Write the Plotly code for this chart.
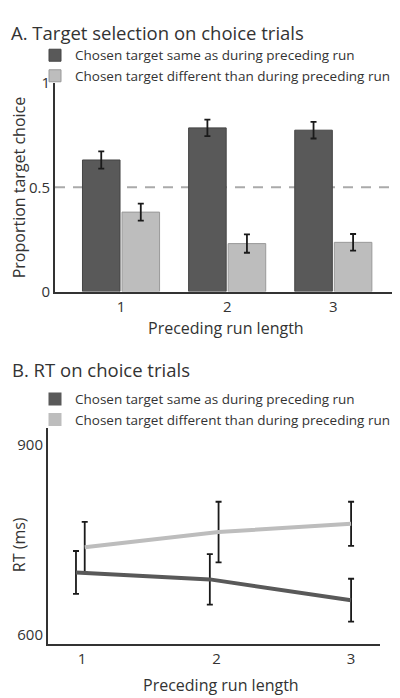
import plotly.graph_objects as go

# ---------------- data ----------------
run_lengths = [1, 2, 3]
tick_labels = ["1", "2", "3"]
series_names = ["Chosen target same as during preceding run",
                "Chosen target different than during preceding run"]

# Panel A: proportion target choice
prop_same = [0.631, 0.785, 0.774]
prop_same_err = [0.041, 0.040, 0.040]
prop_diff = [0.381, 0.230, 0.236]
prop_diff_err = [0.041, 0.044, 0.040]
chance_level = 0.5

# Panel B: RT (ms), x positions slightly jittered as in the original
rt_x_same = [0.955, 1.95, 3.0]
rt_same = [698, 687, 654]
rt_same_err = [34, 40, 34]
rt_x_diff = [1.02, 2.015, 3.0]
rt_diff = [738, 762, 775]
rt_diff_err = [40, 48, 35]

# ---------------- style ----------------
W, H = 400, 698
FONT = "Open Sans"
DARK = "#595959"
LIGHT = "#bdbdbd"
AXIS = "#333333"
TXT = "#333333"

# page-pixel -> paper helpers (compensating for page offset of the figure)
OFF_X, OFF_Y, SY = 8.0, 20.1, 0.969


def PX(p):
    return (p - OFF_X) / W


def PY(p):
    return 1 - ((p - OFF_Y) / SY) / H


fig = go.Figure()

err_style = dict(type="data", visible=True, color="#1a1a1a", thickness=1.8, width=3)

fig.add_trace(go.Bar(
    x=run_lengths, y=prop_same, name=series_names[0],
    marker=dict(color=DARK, line=dict(color="#444444", width=1)),
    error_y=dict(array=prop_same_err, **err_style),
    xaxis="x", yaxis="y", legend="legend", legendgroup="a1",
))
fig.add_trace(go.Bar(
    x=run_lengths, y=prop_diff, name=series_names[1],
    marker=dict(color=LIGHT, line=dict(color="#999999", width=1)),
    error_y=dict(array=prop_diff_err, **err_style),
    xaxis="x", yaxis="y", legend="legend", legendgroup="a2",
))

fig.add_trace(go.Scatter(
    x=rt_x_diff, y=rt_diff, mode="lines", name=series_names[1],
    line=dict(color=LIGHT, width=4),
    error_y=dict(array=rt_diff_err, **err_style),
    xaxis="x2", yaxis="y2", showlegend=False,
))
fig.add_trace(go.Scatter(
    x=rt_x_same, y=rt_same, mode="lines", name=series_names[0],
    line=dict(color=DARK, width=4),
    error_y=dict(array=rt_same_err, **err_style),
    xaxis="x2", yaxis="y2", showlegend=False,
))
for i, (name, col) in enumerate(zip(series_names, [DARK, LIGHT])):
    fig.add_trace(go.Scatter(
        x=[None], y=[None], mode="markers", name=name,
        marker=dict(symbol="square", size=13, color=col),
        xaxis="x2", yaxis="y2", legend="legend2", legendgroup="b%d" % i,
    ))

axis_common = dict(showline=True, linecolor=AXIS, linewidth=2, ticks="",
                   showgrid=False, zeroline=False,
                   tickfont=dict(family=FONT, size=15, color=TXT))

legend_common = dict(xanchor="left", yanchor="top",
                     font=dict(family=FONT, size=13.5, color=TXT),
                     bgcolor="rgba(0,0,0,0)", tracegroupgap=0, itemclick=False)

title_font = dict(family=FONT, size=18.5, color=TXT)
label_font = dict(family=FONT, size=16, color=TXT)

fig.update_layout(
    width=W, height=H,
    margin=dict(l=0, r=0, t=0, b=0),
    paper_bgcolor="white", plot_bgcolor="white",
    font=dict(family=FONT, color=TXT),
    barmode="group", bargap=0.255, bargroupgap=0.05,
    xaxis=dict(domain=[PX(55), PX(397)], range=[0.378, 3.6],
               tickvals=run_lengths, ticktext=tick_labels, anchor="y", **axis_common),
    yaxis=dict(domain=[PY(292), PY(84)], range=[0, 1],
               tickvals=[0, 0.5, 1], ticktext=["0", "0.5", "1"], anchor="x", **axis_common),
    xaxis2=dict(domain=[PX(48), PX(380)], range=[0.747, 3.215],
                tickvals=run_lengths, ticktext=tick_labels, anchor="y2", **axis_common),
    yaxis2=dict(domain=[PY(644), PY(428)], range=[584, 927],
                tickvals=[600, 900], ticktext=["600", "900"], anchor="x2", **axis_common),
    legend=dict(x=PX(35), y=PY(41), **legend_common),
    legend2=dict(x=PX(35), y=PY(384), **legend_common),
    shapes=[dict(type="line", xref="x domain", yref="y", x0=0, x1=1,
                 y0=chance_level, y1=chance_level, layer="below",
                 line=dict(color="#aaaaaa", width=2, dash="10px,8px"))],
    annotations=[
        dict(text="A. Target selection on choice trials", x=PX(10), y=1,
             xref="paper", yref="paper", xanchor="left", yanchor="top",
             borderpad=0, showarrow=False, font=title_font),
        dict(text="B. RT on choice trials", x=PX(10), y=PY(369.5),
             xref="paper", yref="paper", xanchor="left", yanchor="middle",
             showarrow=False, font=title_font),
        dict(text="Proportion target choice", x=PX(19), y=PY(188),
             xref="paper", yref="paper", xanchor="center", yanchor="middle",
             textangle=-90, showarrow=False, font=label_font),
        dict(text="Preceding run length", x=PX(226), y=PY(328),
             xref="paper", yref="paper", xanchor="center", yanchor="middle",
             showarrow=False, font=label_font),
        dict(text="RT (ms)", x=PX(19), y=PY(545),
             xref="paper", yref="paper", xanchor="center", yanchor="middle",
             textangle=-90, showarrow=False, font=label_font),
        dict(text="Preceding run length", x=PX(221), y=PY(684),
             xref="paper", yref="paper", xanchor="center", yanchor="middle",
             showarrow=False, font=label_font),
    ],
)

fig.write_html("out.html")
